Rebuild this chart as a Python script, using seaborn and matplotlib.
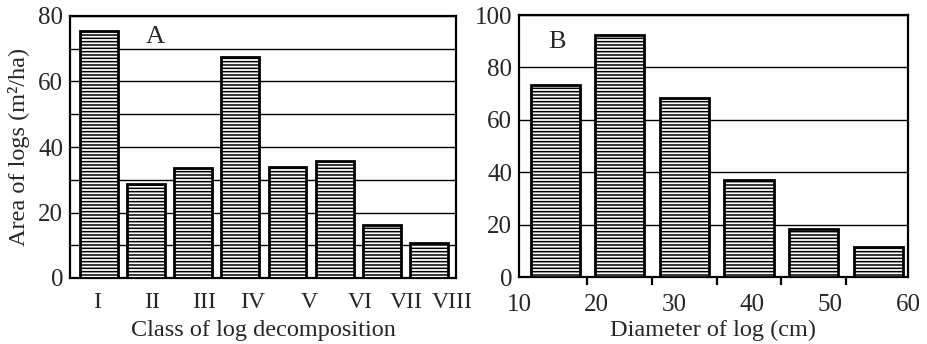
import numpy as np
import pandas as pd
import matplotlib
matplotlib.use("Agg")
import matplotlib.pyplot as plt
from matplotlib.ticker import MultipleLocator, FixedLocator
import seaborn as sns

# ---- data ----
decomp_classes = ["I", "II", "III", "IV", "V", "VI", "VII", "VIII"]
decomp_area = [75.4, 28.8, 33.5, 67.4, 34.0, 35.6, 16.1, 10.7]

diam_classes = ["10-20", "20-30", "30-40", "40-50", "50-60", "60+"]
diam_area = [73.2, 92.4, 68.5, 37.2, 18.5, 11.5]
diam_tick_labels = ["10", "20", "30", "40", "50", "60"]

sns.set_theme(style="white")
plt.rcParams["font.family"] = ["Liberation Serif", "DejaVu Serif"]
plt.rcParams["hatch.linewidth"] = 1.1
plt.rcParams["axes.linewidth"] = 1.6

fs_tick = 18
fs_lab = 17.5
fig = plt.figure(figsize=(9.27, 3.44), dpi=100)
axA = fig.add_axes([70/927, 1-278/344, (456-70)/927, (278-16)/344])
axB = fig.add_axes([519/927, 1-277/344, (908-519)/927, (277-15)/344])

dfA = pd.DataFrame({"cls": decomp_classes, "area": decomp_area})
dfB = pd.DataFrame({"cls": diam_classes, "area": diam_area})

bar_kw = dict(color="white", edgecolor="black", linewidth=2.0, hatch="-----",
              saturation=1, zorder=3)

# Panel A
sns.barplot(data=dfA, x="cls", y="area", ax=axA, width=0.8, **bar_kw)
axA.set_xlim(-0.61, 7.57)
axA.set_ylim(0, 80)
# tick labels in the original drift slightly right of the bar centres
label_pos = np.arange(len(decomp_classes)) + np.array([-0.04, 0.14, 0.24, 0.26, 0.47, 0.53, 0.52, 0.50])
axA.xaxis.set_major_locator(FixedLocator(label_pos))
axA.set_xticklabels(decomp_classes)
axA.yaxis.set_major_locator(MultipleLocator(20))
axA.yaxis.set_minor_locator(MultipleLocator(10))
axA.grid(axis="y", which="both", color="black", linewidth=1.0, zorder=0)
axA.set_axisbelow(True)
axA.tick_params(axis="both", which="both", length=0)
axA.tick_params(axis="x", pad=10, labelsize=17)
axA.tick_params(axis="y", pad=5, labelsize=fs_tick)
axA.set_xlabel("Class of log decomposition", fontsize=fs_lab, labelpad=5)
axA.set_ylabel("Area of logs (m²/ha)", fontsize=fs_lab, labelpad=6)
axA.text(0.22, 0.897, "A", transform=axA.transAxes, fontsize=fs_tick + 1,
         ha="center", va="baseline")

# Panel B
sns.barplot(data=dfB, x="cls", y="area", ax=axB, width=0.76, **bar_kw)
x0, x1 = -0.56, 5.46
axB.set_xlim(x0, x1)
axB.set_ylim(0, 100)
axB.yaxis.set_major_locator(MultipleLocator(20))
axB.grid(axis="y", which="major", color="black", linewidth=1.0, zorder=0)
axB.set_axisbelow(True)
axB.xaxis.set_major_locator(FixedLocator(np.linspace(x0, x1, len(diam_tick_labels))))
axB.set_xticklabels(diam_tick_labels)
axB.xaxis.set_minor_locator(FixedLocator([x0] + list(np.arange(len(diam_classes) - 1) + 0.5)))
axB.tick_params(axis="x", which="major", length=0, labelsize=fs_tick, pad=12)
axB.tick_params(axis="x", which="minor", length=6, width=1.6, direction="out",
                color="black", bottom=True)
axB.tick_params(axis="y", length=0, labelsize=fs_tick, pad=5)
axB.set_xlabel("Diameter of log (cm)", fontsize=fs_lab, labelpad=3)
axB.set_ylabel("")
axB.text(0.098, 0.874, "B", transform=axB.transAxes, fontsize=fs_tick + 1,
         ha="center", va="baseline")

for ax in (axA, axB):
    for s in ax.spines.values():
        s.set_color("black")
        s.set_visible(True)
        s.set_linewidth(1.6)

fig.savefig("out.png", dpi=100)
